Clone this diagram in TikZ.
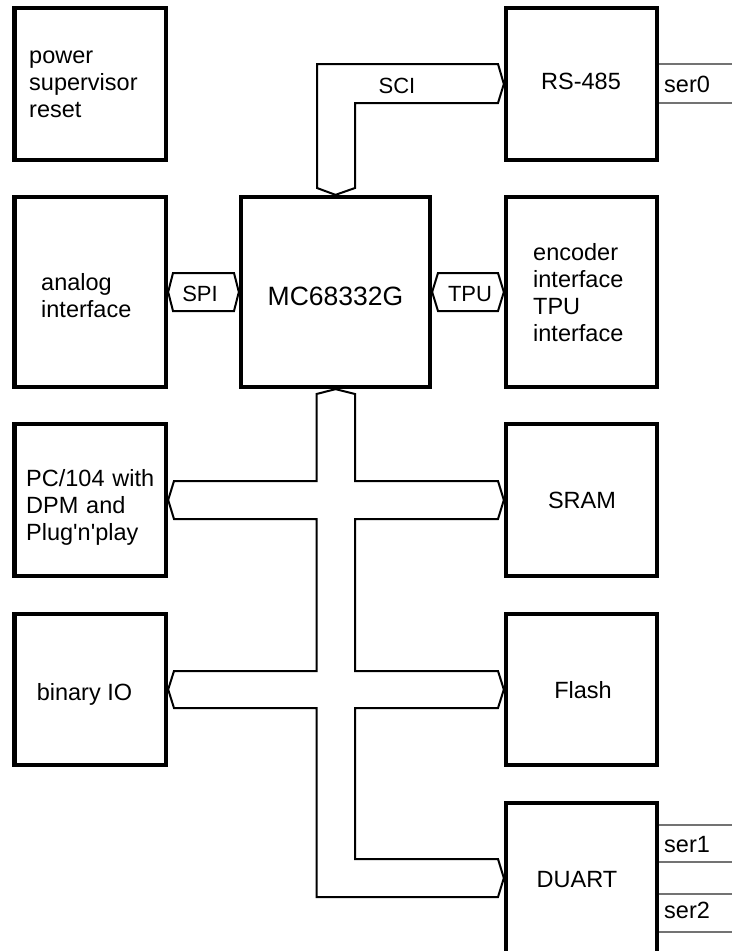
\documentclass[tikz,border=0pt]{standalone}
\usepackage{fontspec}
\setmainfont{Liberation Sans}
\begin{document}
\begin{tikzpicture}[x=1pt,y=-1pt,
  box/.style={draw, line width=4.3pt, inner sep=0pt},
  txt/.style={font=\fontsize{23.5}{27}\selectfont, inner sep=0pt},
  mtxt/.style={txt, anchor=base west, text width=150pt, align=left},
  ctxt/.style={txt, anchor=base},
  btxt/.style={font=\fontsize{22}{26}\selectfont, inner sep=0pt, anchor=base},
  bus/.style={draw, line width=2pt, fill=white, line join=miter},
  serline/.style={draw=black!55, line width=1.2pt}]
\useasboundingbox (0,0) rectangle (732,951);
\clip (0,0) rectangle (732,951);

% boxes
\node[box, minimum width=151.5pt, minimum height=152pt] (power) at (90.25,84) {};
\node[box, minimum width=151pt, minimum height=152pt] (rs) at (581.5,84) {};
\node[box, minimum width=151.5pt, minimum height=190pt] (analog) at (90.25,292) {};
\node[box, minimum width=189pt, minimum height=190pt] (mc) at (335.5,292) {};
\node[box, minimum width=151pt, minimum height=190pt] (enc) at (581.5,292) {};
\node[box, minimum width=151.5pt, minimum height=152pt] (pc) at (90.25,500) {};
\node[box, minimum width=151pt, minimum height=152pt] (sram) at (581.5,500) {};
\node[box, minimum width=151.5pt, minimum height=151pt] (bin) at (90.25,689.5) {};
\node[box, minimum width=151pt, minimum height=151pt] (flash) at (581.5,689.5) {};
\node[box, minimum width=151pt, minimum height=204pt] (duart) at (581.5,905) {};

% box texts
\node[mtxt] (powert) at (29,63) {power\\supervisor\\reset};
\node[ctxt] (rst) at (581,89) {RS-485};
\node[mtxt] (analogt) at (41,290) {analog\\interface};
\node[font=\fontsize{26.5}{30}\selectfont, inner sep=0pt, anchor=base] (mct) at (335.5,305) {MC68332G};
\node[mtxt] (enct) at (533,260) {encoder\\interface\\TPU\\interface};
\node[mtxt] (pct) at (26,486) {PC/104 with\\DPM and\\Plug\textquotesingle n\textquotesingle play};
\node[ctxt] (sramt) at (582,508) {SRAM};
\node[ctxt] (bint) at (84.5,700) {binary IO};
\node[ctxt] (flasht) at (583,698) {Flash};
\node[ctxt] (duartt) at (577,887) {DUART};

% SCI bus
\draw[bus] (317,188) -- (317,64) -- (498,64) -- (rs.west) -- (498,103) -- (355,103) -- (355,188) -- (mc.north) -- cycle;
\node[btxt] (scit) at (397,93) {SCI};

% SPI and TPU
\draw[bus] (analog.east) -- (173,273) -- (234,273) -- (mc.west) -- (234,311) -- (173,311) -- cycle;
\node[btxt] (spit) at (200,301) {SPI};
\draw[bus] (mc.east) -- (438,273) -- (498,273) -- (enc.west) -- (498,311) -- (438,311) -- cycle;
\node[btxt] (tput) at (470,301) {TPU};

% main bus
\coordinate (dtip) at (503.85,878);
\draw[bus] (316.5,394) -- (mc.south) -- (355,394) -- (355,481) -- (498,481) -- (sram.west)
  -- (498,519) -- (355,519) -- (355,671) -- (498,671) -- (flash.west) -- (498,708)
  -- (355,708) -- (355,859) -- (498,859) -- (dtip) -- (498,897) -- (316.5,897)
  -- (316.5,708) -- (174,708) -- (bin.east) -- (174,671) -- (316.5,671)
  -- (316.5,519) -- (174,519) -- (pc.east) -- (174,481) -- (316.5,481) -- cycle;

% serial lines
\coordinate (s0a) at (732,64);
\coordinate (s0b) at (732,103);
\coordinate (s1a) at (732,825);
\coordinate (s1b) at (732,862);
\coordinate (s2a) at (732,894);
\coordinate (s2b) at (732,932);
\draw[serline] (rs.east |- s0a) -- (s0a);
\draw[serline] (rs.east |- s0b) -- (s0b);
\draw[serline] (duart.east |- s1a) -- (s1a);
\draw[serline] (duart.east |- s1b) -- (s1b);
\draw[serline] (duart.east |- s2a) -- (s2a);
\draw[serline] (duart.east |- s2b) -- (s2b);
\node[txt, anchor=base west] (ser0) at (664,92) {ser0};
\node[txt, anchor=base west] (ser1) at (664,852) {ser1};
\node[txt, anchor=base west] (ser2) at (664,918) {ser2};
\end{tikzpicture}
\end{document}
